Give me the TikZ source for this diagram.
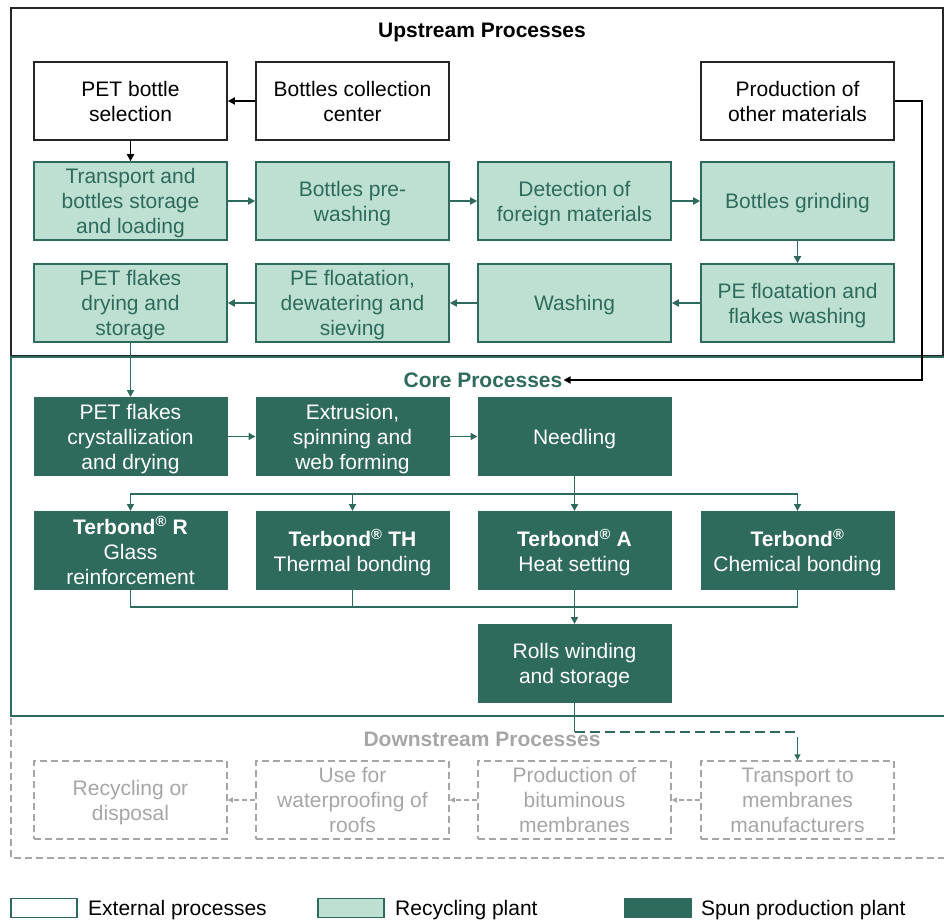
\documentclass[tikz,border=0pt]{standalone}
\usepackage{fontspec}
\setmainfont{Liberation Sans}
\usetikzlibrary{arrows.meta}
\definecolor{dg}{HTML}{2F6B5C}
\definecolor{lg}{HTML}{BDE0D2}
\definecolor{gr}{HTML}{A6A6A6}
\begin{document}
\begin{tikzpicture}[x=1pt,y=-1pt,
  box/.style={minimum width=193pt, minimum height=78pt, inner sep=0pt, align=center, font=\fontsize{21}{25}\selectfont},
  extbox/.style={box, draw=black!85, line width=1.7pt, fill=white},
  recbox/.style={box, text depth=0pt, draw=dg, line width=1.6pt, fill=lg, text=dg},
  spunbox/.style={box, text depth=0pt, draw=dg, line width=1pt, fill=dg, text=white},
  downbox/.style={box, text depth=0pt, draw=gr, dash pattern=on 7pt off 4pt, line width=1.5pt, text=gr},
  arr/.style={-{Triangle[length=7pt,width=7pt]}, line width=1.7pt},
  garr/.style={arr, draw=dg},
  gline/.style={line width=1.7pt, draw=dg},
  barr/.style={arr, draw=black},
  darr/.style={-{Triangle[length=5pt,width=5pt]}, line width=1.4pt, draw=gr, dash pattern=on 5pt off 3pt},
  titlefont/.style={font=\bfseries\fontsize{21}{25}\selectfont, inner sep=1pt},
  legbox/.style={minimum width=66pt, minimum height=19pt, inner sep=0pt, line width=1.6pt},
  legtext/.style={anchor=west, font=\fontsize{21}{25}\selectfont, inner sep=0pt}
]
\useasboundingbox (0,0) rectangle (944,920);

% frames
\draw[line width=2pt, black!85] (11,8) rectangle (943,356);
\draw[line width=2pt, dg] (946,357) -- (11,357) -- (11,716) -- (946,716);
\draw[line width=1.6pt, gr, dash pattern=on 7pt off 4pt] (11,718) -- (11,858) -- (946,858);

% titles
\node[titlefont] (uptitle) at (482,32) {Upstream Processes};
\node[titlefont, text=dg] (coretitle) at (483,380) {Core Processes};
\node[titlefont, text=gr] (downtitle) at (482,739) {Downstream Processes};

% upstream
\node[extbox] (pbs) at (130.5,101) {PET bottle\\selection};
\node[extbox] (bcc) at (352.5,101) {Bottles collection\\center};
\node[extbox] (prod) at (797.5,101) {Production of\\other materials};

\node[recbox] (tr) at (130.5,201) {Transport and\\bottles storage\\and loading};
\node[recbox] (prew) at (352.5,201) {Bottles pre-\\washing};
\node[recbox] (det) at (574.5,201) {Detection of\\foreign materials};
\node[recbox] (grind) at (797.5,201) {Bottles grinding};

\node[recbox] (dry) at (130.5,303) {PET flakes\\drying and\\storage};
\node[recbox] (pedw) at (352.5,303) {PE floatation,\\dewatering and\\sieving};
\node[recbox] (wash) at (574.5,303) {Washing};
\node[recbox] (pefl) at (797.5,303) {PE floatation and\\flakes washing};

% core
\node[spunbox] (cryst) at (130.5,436.5) {PET flakes\\crystallization\\and drying};
\node[spunbox] (extr) at (352.5,436.5) {Extrusion,\\spinning and\\web forming};
\node[spunbox] (need) at (574.5,436.5) {Needling};

\node[spunbox] (tR) at (130.5,550.5) {\textbf{Terbond\textsuperscript{®} R}\\Glass\\reinforcement};
\node[spunbox] (tTH) at (352.5,550.5) {\textbf{Terbond\textsuperscript{®} TH}\\Thermal bonding};
\node[spunbox] (tA) at (574.5,550.5) {\textbf{Terbond\textsuperscript{®} A}\\Heat setting};
\node[spunbox] (tC) at (797.5,550.5) {\textbf{Terbond\textsuperscript{®}}\\Chemical bonding};

\node[spunbox] (rolls) at (574.5,663.5) {Rolls winding\\and storage};

% downstream
\node[downbox] (rec) at (130.5,800) {Recycling or\\disposal};
\node[downbox] (use) at (352.5,800) {Use for\\waterproofing of\\roofs};
\node[downbox] (prodb) at (574.5,800) {Production of\\bituminous\\membranes};
\node[downbox] (trans) at (797.5,800) {Transport to\\membranes\\manufacturers};

% upstream connectors
\draw[barr] (bcc.west) -- (pbs.east);
\draw[barr] (pbs.south) -- (tr.north);
\draw[garr] (tr.east) -- (prew.west);
\draw[garr] (prew.east) -- (det.west);
\draw[garr] (det.east) -- (grind.west);
\draw[garr] (grind.south) -- (pefl.north);
\draw[garr] (pefl.west) -- (wash.east);
\draw[garr] (wash.west) -- (pedw.east);
\draw[garr] (pedw.west) -- (dry.east);
\draw[garr] (dry.south) -- (cryst.north);
\coordinate (bend) at (922,101);
\draw[barr] (prod.east) -- (bend) |- (coretitle.east);

% core connectors
\draw[garr] (cryst.east) -- (extr.west);
\draw[garr] (extr.east) -- (need.west);
\coordinate (split) at (574.5,494);
\draw[garr] (need.south) -- (tA.north);
\draw[garr] (split) -| (tR.north);
\draw[garr] (split) -| (tTH.north);
\draw[garr] (split) -| (tC.north);
\coordinate (merge) at (574.5,607);
\draw[gline] (tR.south) |- (merge);
\draw[gline] (tTH.south) |- (merge);
\draw[gline] (tC.south) |- (merge);
\draw[garr] (tA.south) -- (rolls.north);

% to downstream
\coordinate (d1) at (574.5,732);
\coordinate (d2) at (797.5,732);
\coordinate (d3) at (797.5,737);
\draw[line width=1.3pt, dg] (rolls.south) -- (d1);
\draw[line width=2.6pt, dg, dash pattern=on 10pt off 5pt] (d1) -- (d2);
\draw[-{Triangle[length=6pt,width=6pt]}, line width=1.3pt, dg] (d3) -- (trans.north);

% downstream connectors
\draw[darr] (trans.west) -- (prodb.east);
\draw[darr] (prodb.west) -- (use.east);
\draw[darr] (use.west) -- (rec.east);

% legend
\node[legbox, draw=dg, fill=white] (lg1) at (44,908) {};
\node[legtext] (lt1) at (88,910) {External processes};
\node[legbox, draw=dg, fill=lg] (lg2) at (351,908) {};
\node[legtext] (lt2) at (395,910) {Recycling plant};
\node[legbox, draw=dg, fill=dg] (lg3) at (658,908) {};
\node[legtext] (lt3) at (701,910) {Spun production plant};
\end{tikzpicture}
\end{document}
